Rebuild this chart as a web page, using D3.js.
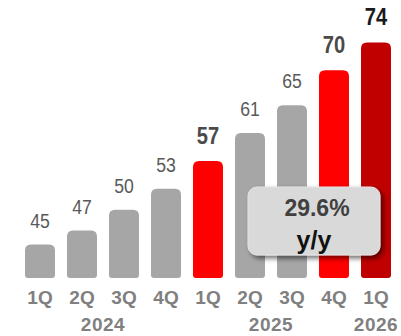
<!DOCTYPE html>
<html>
<head>
<meta charset="utf-8">
<script src="https://cdn.jsdelivr.net/npm/d3@7"></script>
<style>
  html, body { margin: 0; padding: 0; background: #fff; }
  svg { display: block; }
</style>
</head>
<body>
<svg id="chart" width="401" height="336"></svg>
<script>
// Quarterly values
const quarters = ["1Q", "2Q", "3Q", "4Q", "1Q", "2Q", "3Q", "4Q", "1Q"];
const values = [45, 47, 50, 53, 57, 61, 65, 70, 74];
// How each quarter is emphasised: plain, highlighted, latest
const emphasis = ["plain", "plain", "plain", "plain", "key", "plain", "plain", "key", "latest"];
// Year groups: label and index range of quarters
const years = ["2024", "2025", "2026"];
const yearStart = [0, 4, 8];
const yearEnd = [3, 7, 8];
const growthLabel = ["29.6%", "y/y"];

const baseY = 278;
const svg = d3.select("#chart");

const x = d3.scaleBand()
  .domain(d3.range(values.length))
  .range([19, 397])
  .paddingInner(0.286)
  .paddingOuter(0.143);

const y = d3.scaleLinear()
  .domain([40.2, 74])
  .range([baseY, 42.4]);

const fillFor = { plain: "#a6a6a6", key: "#ff0000", latest: "#c00000" };
const labelColor = { plain: "#595959", key: "#4a4a4a", latest: "#1a1a1a" };

const sans = "'Liberation Sans', Arial, sans-serif";

// Bar path with rounded top corners and slightly rounded bottom corners
function barPath(x0, y0, w, h, rt, rb) {
  const x1 = x0 + w, y1 = y0 + h;
  return `M${x0},${y0 + rt}` +
    `Q${x0},${y0} ${x0 + rt},${y0}` +
    `L${x1 - rt},${y0}` +
    `Q${x1},${y0} ${x1},${y0 + rt}` +
    `L${x1},${y1 - rb}` +
    `Q${x1},${y1} ${x1 - rb},${y1}` +
    `L${x0 + rb},${y1}` +
    `Q${x0},${y1} ${x0},${y1 - rb}Z`;
}

svg.append("g").selectAll("path")
  .data(values)
  .join("path")
  .attr("d", (d, i) => barPath(x(i), y(d), x.bandwidth(), baseY - y(d), 6, 3))
  .attr("fill", (d, i) => fillFor[emphasis[i]]);

// Value labels above bars, condensed horizontally
svg.append("g").selectAll("text")
  .data(values)
  .join("text")
  .attr("transform", (d, i) =>
    `translate(${x(i) + x.bandwidth() / 2},${y(d) - 17}) scale(0.84,1)`)
  .attr("text-anchor", "middle")
  .attr("font-family", sans)
  .attr("font-size", (d, i) => emphasis[i] === "plain" ? 21 : 24)
  .attr("font-weight", (d, i) => emphasis[i] === "plain" ? "normal" : "bold")
  .attr("fill", (d, i) => labelColor[emphasis[i]])
  .text(d => d);

// Quarter axis
const axis = d3.axisBottom(x).tickSize(0).tickFormat(i => quarters[i]);
const gx = svg.append("g").attr("transform", `translate(0,${baseY})`).call(axis);
gx.select(".domain").remove();
gx.selectAll("text")
  .attr("dy", 0)
  .attr("y", 26)
  .attr("font-family", sans)
  .attr("font-size", 19)
  .attr("font-weight", "bold")
  .attr("fill", "#808080");

// Year labels centred under their quarters
svg.append("g").selectAll("text")
  .data(years)
  .join("text")
  .attr("x", (d, k) => (x(yearStart[k]) + x(yearEnd[k]) + x.bandwidth()) / 2)
  .attr("y", 331)
  .attr("text-anchor", "middle")
  .attr("font-family", sans)
  .attr("font-size", 19)
  .attr("font-weight", "bold")
  .attr("letter-spacing", 0.5)
  .attr("fill", "#808080")
  .text(d => d);

// Growth callout
const defs = svg.append("defs");
const f = defs.append("filter").attr("id", "shadow")
  .attr("x", "-20%").attr("y", "-20%").attr("width", "140%").attr("height", "150%");
f.append("feDropShadow").attr("dx", 3).attr("dy", 3).attr("stdDeviation", 2.5)
  .attr("flood-color", "#000").attr("flood-opacity", 0.55);

const box = svg.append("g");
box.append("rect")
  .attr("x", 248).attr("y", 187).attr("width", 132).attr("height", 68)
  .attr("rx", 9).attr("ry", 9)
  .attr("fill", "#d9d9d9")
  .attr("stroke", "#e4e4e4").attr("stroke-width", 1)
  .attr("filter", "url(#shadow)");
box.append("text")
  .attr("x", 317).attr("y", 216)
  .attr("text-anchor", "middle")
  .attr("font-family", sans).attr("font-size", 23).attr("font-weight", "bold")
  .attr("fill", "#404040")
  .text(growthLabel[0]);
box.append("text")
  .attr("x", 314).attr("y", 249)
  .attr("text-anchor", "middle")
  .attr("font-family", sans).attr("font-size", 25).attr("font-weight", "bold")
  .attr("fill", "#111")
  .text(growthLabel[1]);
</script>
</body>
</html>
